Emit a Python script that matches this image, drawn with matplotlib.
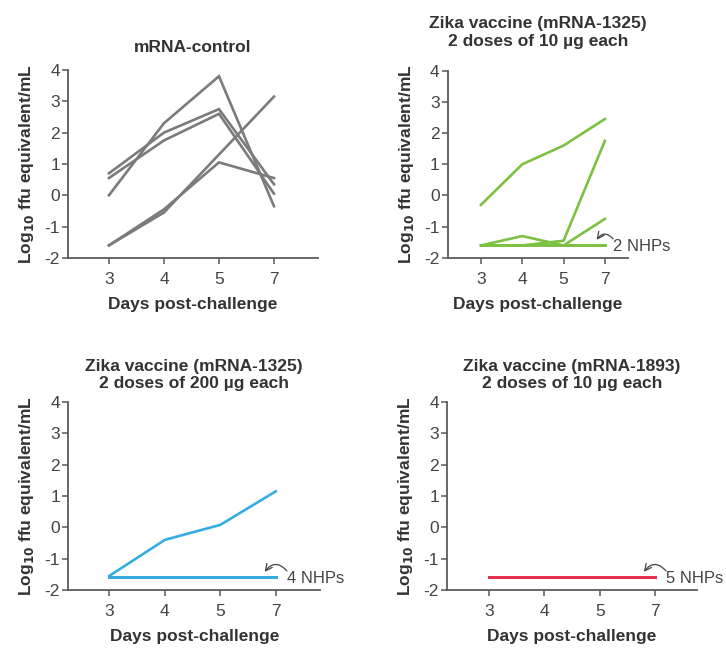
#! /usr/bin/env python3

'''viremia after Zika challenge, four panels of log10 ffu per mL'''

import matplotlib
matplotlib.use('Agg')
import matplotlib.pyplot as plt

# days post-challenge (equally spaced on the plot)
days = ['3', '4', '5', '7']

# mRNA-control, 5 animals
control = [
    [0.0, 2.3, 3.8, -0.35],
    [0.7, 2.0, 2.75, 0.35],
    [0.55, 1.75, 2.6, 0.05],
    [-1.6, -0.45, 1.05, 0.55],
    [-1.6, -0.55, 1.3, 3.15],
]

# mRNA-1325, 10 ug
low_dose = [
    [-0.3, 1.0, 1.6, 2.45],
    [-1.6, -1.6, -1.45, 1.75],
    [-1.6, -1.3, -1.6, -0.75],
    [-1.6, -1.6, -1.6, -1.6],
    [-1.6, -1.6, -1.6, -1.6],
]

# mRNA-1325, 200 ug
high_dose = [
    [-1.55, -0.4, 0.08, 1.15],
    [-1.6, -1.6, -1.6, -1.6],
    [-1.6, -1.6, -1.6, -1.6],
    [-1.6, -1.6, -1.6, -1.6],
    [-1.6, -1.6, -1.6, -1.6],
]

# mRNA-1893, 10 ug
new_vaccine = [
    [-1.6, -1.6, -1.6, -1.6],
    [-1.6, -1.6, -1.6, -1.6],
    [-1.6, -1.6, -1.6, -1.6],
    [-1.6, -1.6, -1.6, -1.6],
    [-1.6, -1.6, -1.6, -1.6],
]

titles = ['mRNA-control',
          'Zika vaccine (mRNA-1325)\n2 doses of 10 \u00b5g each',
          'Zika vaccine (mRNA-1325)\n2 doses of 200 \u00b5g each',
          'Zika vaccine (mRNA-1893)\n2 doses of 10 \u00b5g each']
notes = [None, '2 NHPs', '4 NHPs', '5 NHPs']
colours = ['#7b7b7b', '#7cc142', '#35ade0', '#e5324f']

plt.rcParams['font.family'] = ['Liberation Sans', 'DejaVu Sans']
plt.rcParams['axes.unicode_minus'] = False
axcol = '#5a5a5a'
fs = 12.5


def panel(ax, data, title, colour, note, xlim, tpad):
    for y in data:
        ax.plot(range(len(days)), y, color=colour, lw=1.9, solid_joinstyle='miter')
    ax.set_xlim(*xlim)
    ax.set_ylim(-2, 4)
    ax.set_xticks(range(len(days)))
    ax.set_xticklabels(days)
    ax.set_yticks(range(-2, 5))
    ax.set_title(title, fontsize=fs, fontweight='bold', color='#333333', pad=tpad, linespacing=1.2)
    ax.set_xlabel('Days post-challenge', fontsize=fs, fontweight='bold', color='#333333', labelpad=7)
    ax.set_ylabel('Log$_{\\mathbf{10}}$ ffu equivalent/mL', fontsize=fs, fontweight='bold',
                  color='#333333', labelpad=6)
    for s in ['top', 'right']:
        ax.spines[s].set_visible(False)
    for s in ['left', 'bottom']:
        ax.spines[s].set_color(axcol)
        ax.spines[s].set_linewidth(1.3)
    ax.tick_params(colors=axcol, labelcolor='#444444', labelsize=fs, width=1.1, length=4)
    ax.tick_params(axis='x', pad=6)
    ax.tick_params(axis='y', pad=2)
    if note:
        ax.annotate(note, xy=(2.8, -1.42), xytext=(3.2, -1.63), fontsize=12, color='#444444',
                    va='center', ha='left',
                    arrowprops=dict(arrowstyle='->', color='#444444', lw=0.9,
                                    shrinkA=0, shrinkB=0, patchA=None,
                                    connectionstyle='arc3,rad=0.6',
                                    relpos=(0.0, 1.0)))


fig = plt.figure(figsize=(7.26, 6.48), dpi=100)

boxes = [[0.094, 0.602, 0.344, 0.290],
         [0.617, 0.602, 0.248, 0.289],
         [0.094, 0.0895, 0.347, 0.290],
         [0.616, 0.0895, 0.344, 0.290]]
limits = [(-0.74, 3.8), (-0.8, 3.56), (-0.74, 3.8), (-0.76, 3.76)]
pads = [13, 18, 10, 10]
sets = [control, low_dose, high_dose, new_vaccine]

for box, data, title, colour, note, lim, tpad in zip(boxes, sets, titles, colours, notes, limits, pads):
    ax = fig.add_axes(box)
    panel(ax, data, title, colour, note, lim, tpad)

fig.savefig('out.png', dpi=100)
